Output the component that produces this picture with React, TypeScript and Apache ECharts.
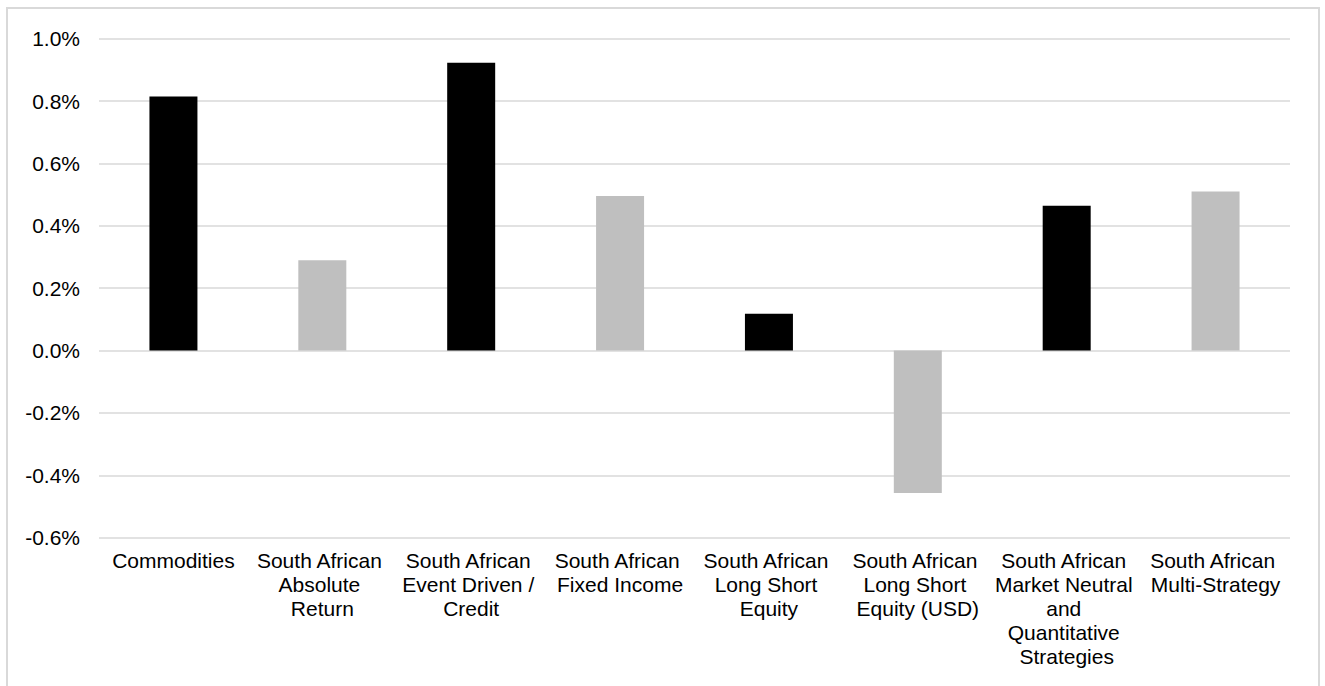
import React, { useEffect, useRef } from "react";
import * as echarts from "echarts";

const categories = [
  "Commodities",
  "South African Absolute Return",
  "South African Event Driven / Credit",
  "South African Fixed Income",
  "South African Long Short Equity",
  "South African Long Short Equity (USD)",
  "South African Market Neutral and Quantitative Strategies",
  "South African Multi-Strategy",
];

// monthly return, in percent
const values = [0.815, 0.29, 0.923, 0.496, 0.118, -0.457, 0.464, 0.51];

const barColors = [
  "#000000",
  "#BFBFBF",
  "#000000",
  "#BFBFBF",
  "#000000",
  "#BFBFBF",
  "#000000",
  "#BFBFBF",
];

const yMin = -0.6;
const yMax = 1.0;
const yStep = 0.2;

export default function App() {
  const ref = useRef<HTMLDivElement>(null);

  useEffect(() => {
    if (!ref.current) return;
    const chart = echarts.init(ref.current, undefined, { renderer: "svg" });
    const font = "'Liberation Sans', Arial, sans-serif";
    chart.setOption({
      animation: false,
      backgroundColor: "#ffffff",
      textStyle: { fontFamily: font },
      graphic: [
        {
          type: "rect",
          shape: { x: 7, y: 8, width: 1312, height: 720 },
          style: { fill: "none", stroke: "#D9D9D9", lineWidth: 2 },
          silent: true,
        },
      ],
      grid: { left: 99, right: 35, top: 38.7, bottom: 148.3, containLabel: false },
      xAxis: {
        type: "category",
        data: categories,
        axisLine: { show: false },
        axisTick: { show: false },
        splitLine: { show: false },
        axisLabel: {
          interval: 0,
          color: "#000000",
          fontFamily: font,
          fontSize: 21,
          lineHeight: 24,
          margin: 11,
          width: 146,
          overflow: "break",
          align: "center",
        },
      },
      yAxis: {
        type: "value",
        min: yMin,
        max: yMax,
        interval: yStep,
        axisLine: { show: false },
        axisTick: { show: false },
        splitLine: { show: true, lineStyle: { color: "#D9D9D9", width: 1.5 } },
        axisLabel: {
          color: "#000000",
          fontFamily: font,
          fontSize: 21,
          margin: 19,
          formatter: (v: number) => `${v.toFixed(1)}%`,
        },
      },
      series: [
        {
          type: "bar",
          barWidth: 48,
          data: values.map((v, i) => ({
            value: v,
            itemStyle: { color: barColors[i] },
          })),
        },
      ],
    });
    return () => chart.dispose();
  }, []);

  return (
    <div
      ref={ref}
      style={{ position: "fixed", left: 0, top: 0, width: 1325, height: 686 }}
    />
  );
}
